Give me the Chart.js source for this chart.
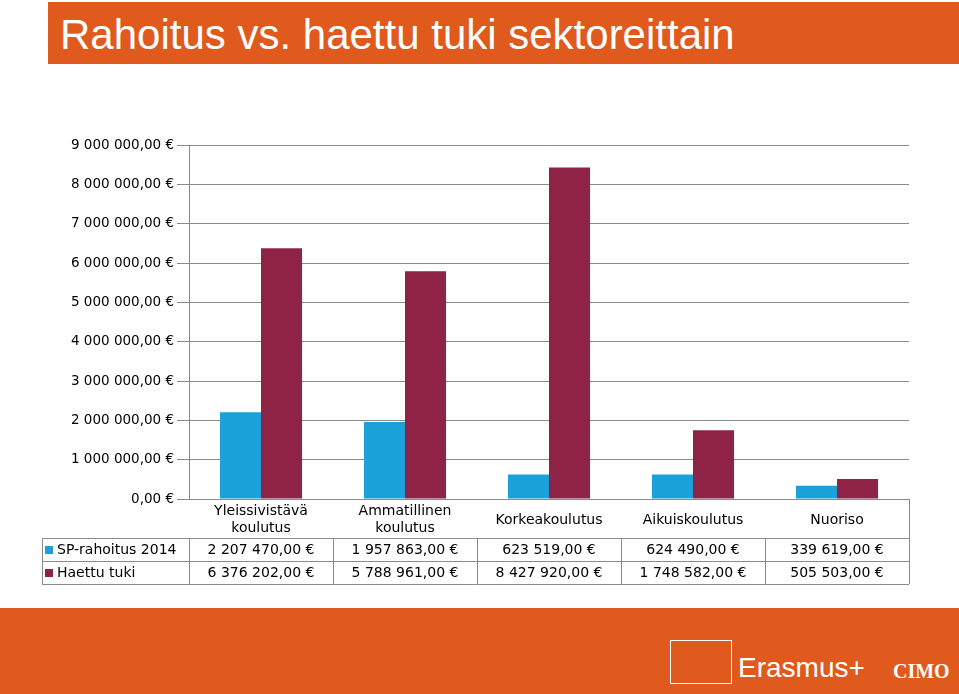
<!DOCTYPE html>
<html><head><meta charset="utf-8">
<script src="https://cdn.jsdelivr.net/npm/chart.js@4"></script>
<style>
body{margin:0;width:959px;height:694px;overflow:hidden;background:#fff;font-family:"DejaVu Sans",sans-serif;position:relative}
#banner{position:absolute;left:48px;top:2px;width:911px;height:62px;background:#E05A1E;color:#fff;font-family:Arial,"Liberation Sans",sans-serif;font-size:42px;line-height:66px;padding-left:12px;box-sizing:border-box}
#footer{position:absolute;left:0;top:608px;width:959px;height:86px;background:#E05A1E}
#eu{position:absolute;left:670px;top:32px;width:60px;height:42px;border:1px solid #fff}
#eras{position:absolute;left:738px;top:44px;color:#fff;font-family:Arial,"Liberation Sans",sans-serif;font-size:28px}
#cimo{position:absolute;left:893px;top:52px;color:#fff;font-family:"Liberation Serif",serif;font-size:20px;font-weight:bold}
canvas{position:absolute;left:0;top:0}
</style></head><body>
<div id="banner">Rahoitus vs. haettu tuki sektoreittain</div>
<div id="footer"><div id="eu"></div><div id="eras">Erasmus+</div><div id="cimo">CIMO</div></div>
<canvas id="c" width="959" height="694"></canvas>
<script>
const categories=[["Yleissivistävä","koulutus"],["Ammatillinen","koulutus"],"Korkeakoulutus","Aikuiskoulutus","Nuoriso"];
const seriesNames=["SP-rahoitus 2014","Haettu tuki"];
const spRahoitus=[2207470,1957863,623519,624490,339619];
const haettu=[6376202,5788961,8427920,1748582,505503];
const colors=["#1BA1D9","#8E2346"];
function fmt(v){const p=v.toFixed(2).split('.');return p[0].replace(/\B(?=(\d{3})+(?!\d))/g,' ')+','+p[1]+' €';}
const tablePlugin={id:'tbl',afterDraw(ch){
 const c=ch.ctx,x=ch.scales.x,a=ch.chartArea;
 const L=42,R=a.right,y0=a.bottom,r1=538,r2=561,r3=584;
 const n=categories.length,w=(R-a.left)/n;
 c.save();c.strokeStyle='#8a8a8a';c.lineWidth=1;c.beginPath();
 for(let i=0;i<=n;i++){const xx=Math.round(a.left+w*i)+0.5;c.moveTo(xx,i==n?y0:r1);c.lineTo(xx,r3);}
 c.moveTo(L+0.5,r1);c.lineTo(L+0.5,r3);
 [r1,r2,r3].forEach(y=>{c.moveTo(L,y+0.5);c.lineTo(R,y+0.5);});
 c.stroke();
 c.font='14px "DejaVu Sans"';c.textBaseline='middle';c.fillStyle='#000';c.textAlign='center';
 categories.forEach((lab,i)=>{const xx=x.getPixelForValue(i);
  if(Array.isArray(lab)){c.fillText(lab[0],xx,511);c.fillText(lab[1],xx,528);}else c.fillText(lab,xx,520);});
 [spRahoitus,haettu].forEach((arr,j)=>{
  const ym=(j?r2:r1)+12;
  c.fillStyle=colors[j];c.fillRect(45,ym-4,8,8);
  c.fillStyle='#000';c.textAlign='left';c.fillText(seriesNames[j],57,ym);
  c.textAlign='center';arr.forEach((v,i)=>c.fillText(fmt(v),x.getPixelForValue(i),ym));
 });
 c.restore();}};
new Chart(document.getElementById('c'),{type:'bar',
 data:{labels:categories,datasets:[
  {label:seriesNames[0],data:spRahoitus,backgroundColor:colors[0]},
  {label:seriesNames[1],data:haettu,backgroundColor:colors[1]}]},
 options:{responsive:false,animation:false,
  layout:{padding:{top:145,bottom:110,right:50,left:0}},
  plugins:{legend:{display:false},tooltip:{enabled:false}},
  datasets:{bar:{categoryPercentage:0.57,barPercentage:1}},
  scales:{
   x:{grid:{display:false},border:{color:'#8a8a8a'},ticks:{display:false},
      afterFit(s){s.height=85;}},
   y:{min:0,max:9000000,grid:{color:'#8a8a8a',tickLength:12},border:{color:'#8a8a8a'},
      ticks:{stepSize:1000000,color:'#000',font:{family:'DejaVu Sans',size:13.5},callback:v=>fmt(v),padding:3},
      afterFit(s){s.width=189;}}}},
 plugins:[tablePlugin]});
</script></body></html>
